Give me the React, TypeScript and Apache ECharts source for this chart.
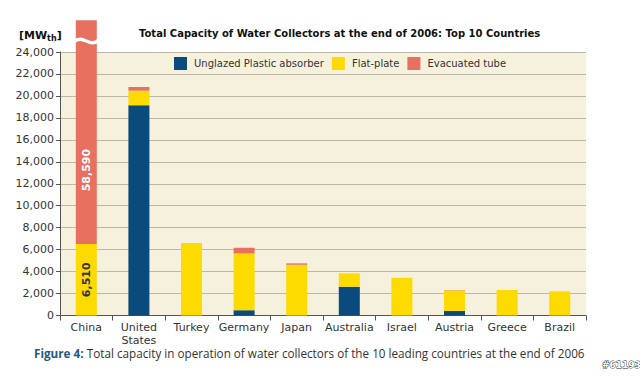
import React, { useEffect, useRef } from "react";
import * as echarts from "echarts";

const categories = ["China", "United\nStates", "Turkey", "Germany", "Japan", "Australia", "Israel", "Austria", "Greece", "Brazil"];
const unglazed = [0, 19150, 0, 480, 0, 2620, 0, 410, 0, 0];
const flatPlate = [6510, 1330, 6600, 5170, 4620, 1220, 3440, 1880, 2320, 2200];
const evacuated = [58590, 330, 0, 520, 130, 0, 0, 30, 0, 0];
const yTicks = [0, 2000, 4000, 6000, 8000, 10000, 12000, 14000, 16000, 18000, 20000, 22000, 24000];
// broken axis: bars taller than the axis are drawn up to this display value
const BREAK_TOP = 26900;
const BREAK_AT = 25000;

const C_BLUE = "#0b4a7c";
const C_YELLOW = "#fedb00";
const C_RED = "#e8705f";
const FONT = "DejaVu Sans, Verdana, sans-serif";

export default function App() {
  const ref = useRef<HTMLDivElement>(null);
  useEffect(() => {
    if (!ref.current) return;
    const chart = echarts.init(ref.current, null, { renderer: "svg" });
    const fmt = (v: number) => v.toLocaleString("en-US");
    const evacDisplay = evacuated.map((v, i) => {
      const below = unglazed[i] + flatPlate[i];
      return Math.min(v, BREAK_TOP - below);
    });
    const barWidth = 21;
    chart.setOption({
      animation: false,
      textStyle: { fontFamily: FONT },
      grid: { left: 60, right: 54, top: 52, bottom: 60.5, show: true, backgroundColor: "#f6f1dd", borderWidth: 0 },
      legend: {
        left: 174, top: 57, itemWidth: 13, itemHeight: 13, itemGap: 8, icon: "rect", padding: 0,
        textStyle: { fontSize: 10, color: "#333", fontFamily: FONT, padding: [0, 0, 0, 2] },
        data: ["Unglazed Plastic absorber", "Flat-plate", "Evacuated tube"],
      },
      xAxis: {
        type: "category", data: categories,
        axisLine: { lineStyle: { color: "#555" } },
        axisTick: { show: true, length: 5, lineStyle: { color: "#555" } },
        axisLabel: { interval: 0, fontSize: 11, color: "#333", lineHeight: 13, margin: 5, fontFamily: FONT },
      },
      yAxis: {
        type: "value", min: 0, max: yTicks[yTicks.length - 1], interval: yTicks[1] - yTicks[0],
        axisLine: { show: true, lineStyle: { color: "#555" } },
        axisTick: { show: true, length: 4, lineStyle: { color: "#555" } },
        axisLabel: { fontSize: 11, color: "#333", margin: 6, formatter: (v: number) => fmt(v), fontFamily: FONT },
        splitLine: { lineStyle: { color: "#bdb8a6", width: 1.2 } },
      },
      series: [
        { name: "Unglazed Plastic absorber", type: "bar", stack: "t", barWidth, itemStyle: { color: C_BLUE }, data: unglazed },
        {
          name: "Flat-plate", type: "bar", stack: "t", barWidth, itemStyle: { color: C_YELLOW },
          data: flatPlate.map((v, i) => i === 0 ? { value: v, label: { show: true, rotate: 90, position: "inside", formatter: fmt(v), color: "#333", fontWeight: "bold", fontSize: 11, fontFamily: FONT } } : v),
        },
        {
          name: "Evacuated tube", type: "bar", stack: "t", barWidth, clip: false, itemStyle: { color: C_RED },
          data: evacDisplay.map((v, i) => evacuated[i] !== v ? { value: v, label: { show: true, rotate: 90, position: "inside", offset: [-38, 0], formatter: fmt(evacuated[i]), color: "#fff", fontWeight: "bold", fontSize: 11, fontFamily: FONT } } : v),
        },
      ],
    });
    const brokenIdx = evacDisplay.findIndex((v, i) => v !== evacuated[i]);
    const graphics: any[] = [
      { type: "text", x: 139, y: 28, style: { text: "Total Capacity of Water Collectors at the end of 2006: Top 10 Countries", fontSize: 10, fontWeight: "bold", fill: "#111", fontFamily: FONT } },
      {
        type: "text", x: 19, y: 28,
        style: {
          text: "{a|[MW}{b|th}{a|]}", fontFamily: FONT,
          rich: {
            a: { fontSize: 11, fontWeight: "bold", fill: "#111", fontFamily: FONT, lineHeight: 14 },
            b: { fontSize: 8, fontWeight: "bold", fill: "#111", fontFamily: FONT, verticalAlign: "bottom", lineHeight: 14, padding: [8, 0, 0, 0] },
          },
        },
      },
      {
        type: "text", x: 34, y: 347,
        style: {
          text: "{f|Figure 4:} {t|Total capacity in operation of water collectors of the 10 leading countries at the end of 2006}",
          rich: {
            f: { fontSize: 11.7, fontWeight: "bold", fill: "#1f5a87", fontFamily: "Open Sans, sans-serif" },
            t: { fontSize: 11.7, fill: "#333", fontFamily: "Open Sans, sans-serif" },
          },
        },
      },
      { type: "text", x: 602, y: 360, style: { text: "#61193", fontSize: 9, fontWeight: "bold", fill: "#fff", stroke: "#222", lineWidth: 0.8, fontFamily: FONT } },
    ];
    if (brokenIdx >= 0) {
      const p = chart.convertToPixel({ gridIndex: 0 }, [brokenIdx, BREAK_AT]) as number[];
      const h = barWidth / 2 + 2;
      graphics.push({
        type: "bezierCurve", z: 100,
        shape: { x1: p[0] - h, y1: p[1] + 1, cpx1: p[0] - 3, cpy1: p[1] - 8, cpx2: p[0] + 3, cpy2: p[1] + 8, x2: p[0] + h, y2: p[1] - 1 },
        style: { stroke: "#fff", lineWidth: 3.5, fill: null },
      });
    }
    chart.setOption({ graphic: graphics });
    return () => chart.dispose();
  }, []);
  return <div ref={ref} style={{ width: 640, height: 376, position: "absolute", left: 0, top: 0 }} />;
}
